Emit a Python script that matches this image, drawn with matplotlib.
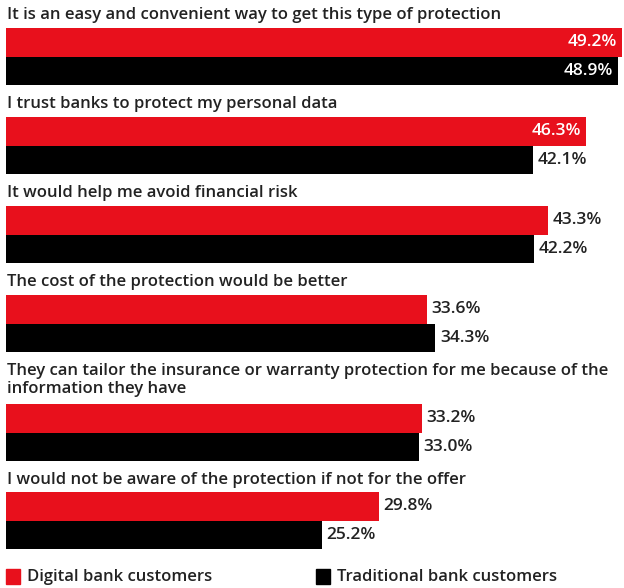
import matplotlib.pyplot as plt
from matplotlib.patches import Rectangle

plt.rcParams['font.family'] = ['Open Sans', 'DejaVu Sans']

questions = [
    "It is an easy and convenient way to get this type of protection",
    "I trust banks to protect my personal data",
    "It would help me avoid financial risk",
    "The cost of the protection would be better",
    "They can tailor the insurance or warranty protection for me because of the\ninformation they have",
    "I would not be aware of the protection if not for the offer",
]
digital = [49.2, 46.3, 43.3, 33.6, 33.2, 29.8]
traditional = [48.9, 42.1, 42.2, 34.3, 33.0, 25.2]
series_names = ["Digital bank customers", "Traditional bank customers"]
colors = ["#e8101c", "#000000"]

# layout in pixels
W, H = 624, 588
x0 = 6
scale = 616 / 49.2
bar_h = 28.5
label_y = [15, 104, 193, 282, 380, 480]
red_top = [28, 117, 206, 295, 404, 492]
fs = 12.5
fs_lab = 12

fig = plt.figure(figsize=(W / 100, H / 100), dpi=100)
ax = fig.add_axes([0, 0, 1, 1])
ax.set_xlim(-x0 / scale, (W - x0) / scale)
ax.set_ylim(H, 0)
ax.axis('off')

for i, q in enumerate(questions):
    ax.text(-x0 / scale + 7 / scale, label_y[i], q, fontsize=fs_lab,
            fontweight='semibold', color='#222222', va='center', ha='left',
            linespacing=1.15)
    for j, vals in enumerate([digital, traditional]):
        v = vals[i]
        yc = red_top[i] + bar_h / 2 + j * bar_h
        ax.barh(yc, v, height=bar_h, left=0, color=colors[j])
        txt = f"{v:.1f}%"
        if v > 45:
            ax.text(v - 0.4, yc, txt, ha='right', va='center',
                    color='white', fontsize=fs, fontweight='semibold')
        else:
            ax.text(v + 0.35, yc, txt, ha='left', va='center',
                    color='#222222', fontsize=fs, fontweight='semibold')

# legend
leg_x = [6, 316]
for k, name in enumerate(series_names):
    fig.patches.append(Rectangle((leg_x[k] / W, 1 - 584 / H), 14 / W, 15 / H,
                                 transform=fig.transFigure,
                                 color=colors[k]))
    fig.text((leg_x[k] + 21) / W, 1 - 577 / H, name, fontsize=fs_lab,
             fontweight='semibold', color='#222222', va='center', ha='left')

fig.savefig("out.png", dpi=100)
